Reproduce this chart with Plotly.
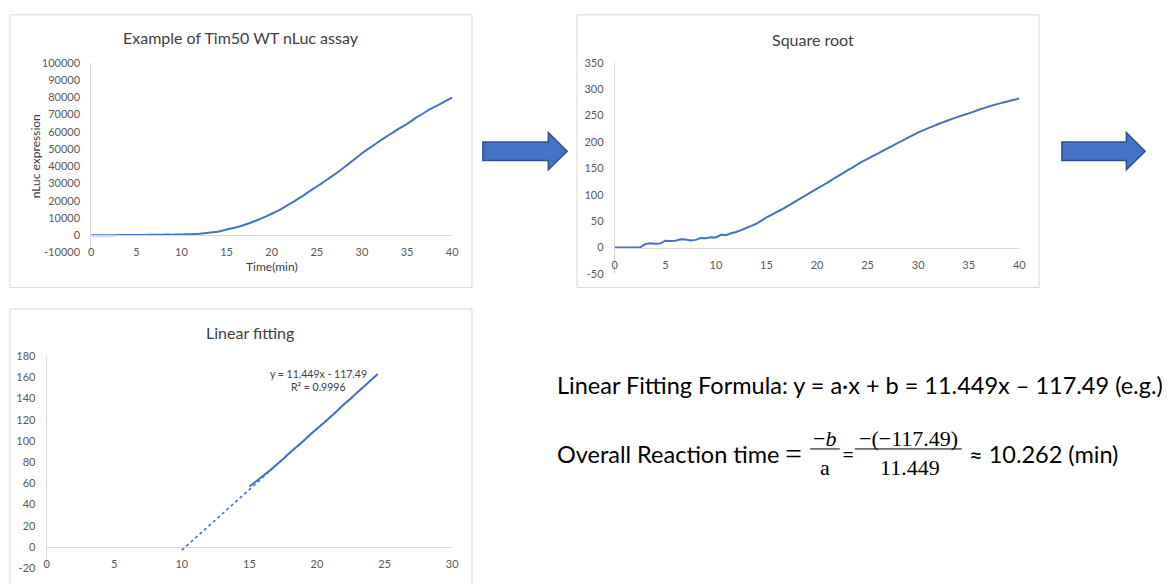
import numpy as np
import plotly.graph_objects as go

W, H = 1175, 584

# ---- data -------------------------------------------------------------
# sampling times (min), every 0.5 min from 0 to 40
time_min = np.arange(0, 40.5, 0.5)

# raw nLuc luminescence readings
nluc = [
    0, 0, 0, 0, 0, 0, 42, 64, 49, 56,
    169, 156, 169, 240, 225, 182, 210, 324, 306, 380,
    361, 576, 552, 729, 870, 1089, 1369, 1681, 2025, 2601,
    3249, 3844, 4489, 5184, 6006, 6889, 7921, 8930, 10000, 11236,
    12432, 13689, 15006, 16512, 18090, 19600, 21316, 22952, 24806, 26569,
    28224, 29929, 31684, 33489, 35344, 37249, 39204, 41209, 43264, 45369,
    47524, 49284, 51076, 52900, 54756, 56406, 58081, 59780, 61504, 63001,
    64516, 66306, 68121, 69696, 71289, 72900, 74256, 75625, 77006, 78400,
    79806,
]

# window used for the linear fit (min)
fit_start, fit_end = 15.0, 24.5
# Excel trendline result and its backward forecast (min)
slope, intercept, r_squared = 11.449, -117.49, 0.9996
backward_forecast = 5.0

# tick values
ticks_p1_y = list(range(-10000, 100001, 10000))
ticks_p1_x = list(range(0, 41, 5))
ticks_p2_y = list(range(-50, 351, 50))
ticks_p2_x = list(range(0, 41, 5))
ticks_p3_y = list(range(-20, 181, 20))
ticks_p3_x = list(range(0, 31, 5))

# ---- derived series -----------------------------------------------------
nluc_arr = np.array(nluc, dtype=float)
sqrt_nluc = np.sqrt(np.clip(nluc_arr, 0, None))
in_fit = (time_min >= fit_start) & (time_min <= fit_end)
fit_t = time_min[in_fit]
fit_s = sqrt_nluc[in_fit]
trend_x = np.array([fit_t[0] - backward_forecast, fit_t[-1]])
trend_y = slope * trend_x + intercept


# ---- helpers (pixel -> paper) ----------------------------------------------
def px(x):
    return x / W


def py(y):
    return 1 - y / H


def zero_pos(rng, dom):
    lo, hi = rng
    return dom[0] + (0 - lo) / (hi - lo) * (dom[1] - dom[0])


BLUE = "#4472C4"
AXIS = "#D9D9D9"
TXT = "#595959"
TITLE = "#404040"
FONT = "Lato"
SERIF = "Liberation Serif"

fig = go.Figure()

line_style = dict(color=BLUE, width=2, simplify=False)
fig.add_trace(go.Scatter(x=time_min, y=nluc_arr, mode="lines", line=line_style,
                         xaxis="x", yaxis="y", hoverinfo="skip"))
fig.add_trace(go.Scatter(x=time_min, y=sqrt_nluc, mode="lines", line=line_style,
                         xaxis="x2", yaxis="y2", hoverinfo="skip"))
fig.add_trace(go.Scatter(x=trend_x, y=trend_y, mode="lines",
                         line=dict(color=BLUE, width=1.6, dash="dot"),
                         xaxis="x3", yaxis="y3", hoverinfo="skip"))
fig.add_trace(go.Scatter(x=fit_t, y=fit_s, mode="lines", line=line_style,
                         xaxis="x3", yaxis="y3", hoverinfo="skip"))

tickfont = dict(family=FONT, size=11, color=TXT)

panels = [
    # (x suffix, x px domain, y px domain (bottom, top), x range, y range, x ticks, y ticks)
    ("", (89, 453), (251, 57), [0, 40], [-10000, 100000], ticks_p1_x, ticks_p1_y),
    ("2", (617, 1025), (273, 57), [0, 40], [-50, 350], ticks_p2_x, ticks_p2_y),
    ("3", (44, 453), (574, 357), [0, 30], [-20, 180], ticks_p3_x, ticks_p3_y),
]

layout_axes = {}
for sfx, xd, yd, xr, yr, xt, yt in panels:
    xdom = [px(xd[0]), px(xd[1])]
    ydom = [py(yd[0]), py(yd[1])]
    layout_axes["xaxis" + sfx] = dict(
        domain=xdom, range=xr, anchor="free", position=zero_pos(yr, ydom),
        tickvals=xt, ticktext=[str(v) for v in xt], showgrid=False,
        zeroline=False, showline=True, linecolor=AXIS, linewidth=1,
        ticks="", tickfont=tickfont, ticklabelstandoff=7, fixedrange=True,
    )
    layout_axes["yaxis" + sfx] = dict(
        domain=ydom, range=yr, anchor="x" + sfx,
        tickvals=yt, ticktext=[str(v) for v in yt], showgrid=False,
        zeroline=False, showline=True, linecolor=AXIS, linewidth=1,
        ticks="", tickfont=tickfont, ticklabelstandoff=8, fixedrange=True,
    )

# panel frames
shapes = []
for x0, y0, x1, y1 in [(7, 8, 473, 287), (579, 8, 1045, 287), (7, 309, 473, 600)]:
    shapes.append(dict(type="rect", xref="paper", yref="paper",
                       x0=px(x0), x1=px(x1), y0=py(y1), y1=py(y0),
                       line=dict(color=AXIS, width=1), fillcolor="rgba(0,0,0,0)",
                       layer="below"))


# block arrows between panels
def arrow_path(x0, x_head, x_tip, yc, shaft_half, head_half):
    pts = [
        (x0, yc - shaft_half), (x_head, yc - shaft_half), (x_head, yc - head_half),
        (x_tip, yc), (x_head, yc + head_half), (x_head, yc + shaft_half),
        (x0, yc + shaft_half),
    ]
    return "M " + " L ".join(f"{px(a):.5f},{py(b):.5f}" for a, b in pts) + " Z"


for x0, xh, xt in [(484, 550, 569), (1068, 1133, 1152)]:
    shapes.append(dict(type="path", xref="paper", yref="paper",
                       path=arrow_path(x0, xh, xt, 147.5, 9.5, 19),
                       fillcolor=BLUE, line=dict(color="#2F528F", width=1.5)))

# fraction bars
for x0, x1 in [(814, 844), (859, 967)]:
    shapes.append(dict(type="line", xref="paper", yref="paper",
                       x0=px(x0), x1=px(x1), y0=py(452), y1=py(452),
                       line=dict(color="#000000", width=1)))

ann = []


def add_text(text, x, y, size, color="#000000", family=FONT, xanchor="center",
             textangle=0):
    ann.append(dict(text=text, x=px(x), y=py(y), xref="paper", yref="paper",
                    showarrow=False, xanchor=xanchor, yanchor="middle",
                    textangle=textangle,
                    font=dict(family=family, size=size, color=color)))


# chart titles and axis titles
add_text("Example of Tim50 WT nLuc assay", 240, 31, 16, TITLE)
add_text("Square root", 817, 33, 16, TITLE)
add_text("Linear fitting", 249, 333, 16, TITLE)
add_text("nLuc expression", 33, 153, 12, TITLE, textangle=-90)
add_text("Time(min)", 271, 265, 12, TITLE)

# trendline label
add_text(f"y = {slope}x - {abs(intercept)}", 318, 375, 10.5, TITLE)
add_text(f"R² = {r_squared}", 318, 389, 10.5, TITLE)

# formulas
reaction_time = -intercept / slope
add_text(f"Linear Fitting Formula: y = a·x + b = {slope}x – {abs(intercept)} (e.g.)",
         557, 387, 23.5, xanchor="left")
add_text("Overall Reaction time", 557, 457, 23.5, xanchor="left")
add_text("=", 797, 457, 30, family=SERIF)
add_text("−<i>b</i>", 829, 441, 22, family=SERIF)
add_text("a", 829, 471, 22, family=SERIF)
add_text("=", 852, 457, 21)
add_text(f"−(−{abs(intercept)})", 913, 441, 22, family=SERIF)
add_text(f"{slope}", 915, 471, 22, family=SERIF)
add_text(f"≈ {reaction_time:.3f} (min)", 972, 457, 23.5, xanchor="left")

fig.update_layout(
    width=W, height=H, margin=dict(l=0, r=0, t=0, b=0),
    paper_bgcolor="white", plot_bgcolor="rgba(0,0,0,0)",
    showlegend=False, shapes=shapes, annotations=ann,
    **layout_axes,
)

fig.write_html("out.html", config={"displayModeBar": False})
